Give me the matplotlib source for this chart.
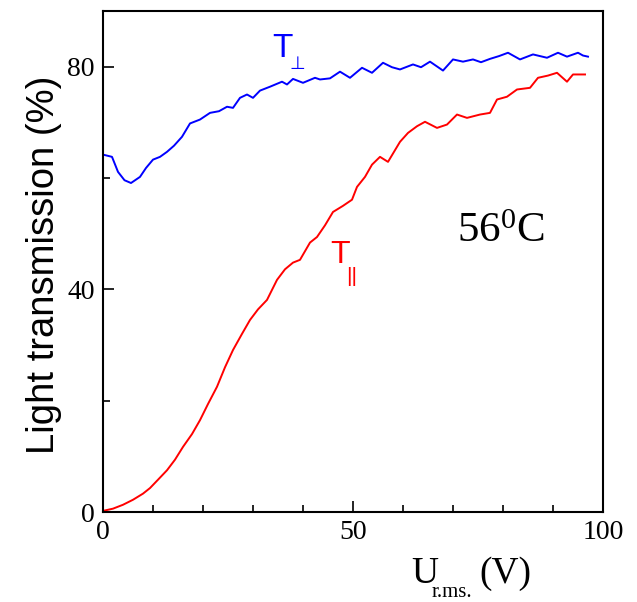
import matplotlib
matplotlib.use("Agg")
import matplotlib.pyplot as plt
import numpy as np

# T_perp (blue)
x_perp = [0, 1.8, 3, 4.3, 5.6, 7.4, 8.6, 10, 11.4, 12.8, 14.2, 15.8, 17.4, 19.4, 21.4, 23.2, 24.8, 26,
          27.4, 28.8, 30, 31.4, 33.4, 35.8, 36.8, 38, 40, 42.4, 43.4, 45.4, 47.4, 49.4, 51.8, 53.8,
          56, 57.8, 59.4, 62, 63.6, 65.4, 68, 70, 72, 74, 75.6, 77.4, 79.2, 81, 83.4, 86, 88.8, 91,
          92.8, 95, 96, 97]
y_perp = [64.2, 63.8, 61.1, 59.6, 59.1, 60.2, 61.8, 63.3, 63.8, 64.7, 65.8, 67.4, 69.8, 70.5, 71.7,
          72.0, 72.8, 72.6, 74.4, 75.0, 74.4, 75.7, 76.4, 77.3, 76.8, 77.8, 77.1, 78.0, 77.7, 77.9,
          79.1, 78.0, 79.8, 78.9, 80.7, 79.9, 79.5, 80.4, 79.9, 80.9, 79.3, 81.3, 80.9, 81.3, 80.8,
          81.4, 81.9, 82.5, 81.3, 82.2, 81.6, 82.5, 81.8, 82.5, 82.0, 81.8]

# T_par (red)
x_par = [0, 2, 4, 6, 8, 9.4, 11, 12.8, 14.4, 16, 17.8, 19.4, 21, 22.8, 24.4, 26, 27.8, 29.4, 31,
         32.8, 34.8, 36.4, 38, 39.4, 41.4, 42.8, 44.4, 46, 48, 49.8, 50.8, 52.4, 53.8, 55.4, 57,
         59.4, 61, 62.8, 64.4, 66.8, 68.8, 70.8, 72.8, 75.4, 77.4, 78.8, 80.8, 82.8, 85.4, 87,
         89, 90.8, 92.8, 94, 96.4]
y_par = [0.2, 0.6, 1.3, 2.2, 3.3, 4.3, 5.8, 7.5, 9.4, 11.7, 14.0, 16.5, 19.4, 22.5, 26.0, 29.1,
         32.0, 34.5, 36.4, 38.1, 41.7, 43.6, 44.8, 45.3, 48.4, 49.4, 51.5, 53.9, 55.0, 56.1, 58.4,
         60.2, 62.4, 63.8, 62.9, 66.5, 68.1, 69.3, 70.1, 69.0, 69.6, 71.4, 70.8, 71.4, 71.7, 74.1,
         74.6, 75.9, 76.2, 78.0, 78.4, 78.9, 77.3, 78.6, 78.6]

W, H = 637, 602
fig = plt.figure(figsize=(W / 100, H / 100), dpi=100)
ax = fig.add_axes([103 / W, 1 - 512 / H, 500 / W, 501 / H])

ax.plot(x_perp, y_perp, color='#0000ff', lw=1.4)
ax.plot(x_par, y_par, color='#ff0000', lw=1.4)

ax.set_xlim(0, 100)
ax.set_ylim(0, 90)
ax.set_xticks([0, 50, 100])
ax.set_xticks(np.arange(10, 100, 10), minor=True)
ax.set_yticks([0, 40, 80])
ax.set_yticks([20, 60], minor=True)
ax.tick_params(direction='in', which='major', length=8, width=1.2)
ax.tick_params(direction='in', which='minor', length=5, width=1.2)
ax.tick_params(labelsize=20, pad=6)
for lab in ax.get_xticklabels() + ax.get_yticklabels():
    lab.set_family('Liberation Serif')
for s in ax.spines.values():
    s.set_linewidth(1.5)

# axis titles
fig.text(44 / W, 1 - 265 / H, 'Light transmission (%)', family='Liberation Sans', fontsize=27.5,
         rotation=90, ha='center', va='center')
fig.text(411 / W, 1 - 583 / H, 'U', family='Liberation Serif', fontsize=27, va='baseline')
fig.text(432 / W, 1 - 597 / H, 'r.ms.', family='Liberation Serif', fontsize=15, va='baseline')
fig.text(479 / W, 1 - 583 / H, '(V)', family='Liberation Serif', fontsize=27, va='baseline')

# curve labels
ax.text(33.8, 81.8, 'T', color='#0000ff', family='Liberation Sans', fontsize=24, va='baseline')
ax.text(37.2, 79.6, '⊥', color='#0000ff', family=['Liberation Sans', 'DejaVu Sans'], fontsize=13, va='baseline')
ax.text(45.4, 44.8, 'T', color='#ff0000', family='Liberation Sans', fontsize=23, va='baseline')
ax.text(48.6, 41.3, '||', color='#ff0000', family='Liberation Sans', fontsize=15, va='baseline')

ax.text(70.8, 48.5, r'$\mathregular{56^{0}C}$', color='black', family='Liberation Serif',
        fontsize=31, va='baseline')

fig.savefig('out.png', dpi=100)
